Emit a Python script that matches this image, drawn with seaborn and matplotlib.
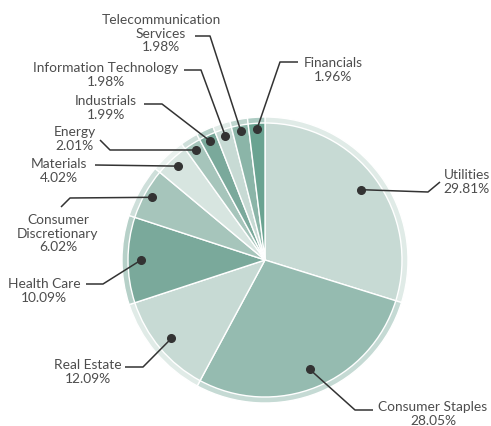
import numpy as np
import matplotlib
matplotlib.use("Agg")
import matplotlib.pyplot as plt
import seaborn as sns

sectors = ["Utilities", "Consumer Staples", "Real Estate", "Health Care",
           "Consumer Discretionary", "Materials", "Energy", "Industrials",
           "Information Technology", "Telecommunication Services", "Financials"]
weights = [29.81, 28.05, 12.09, 10.09, 6.02, 4.02, 2.01, 1.99, 1.98, 1.98, 1.96]
label_text = ["Utilities", "Consumer Staples", "Real Estate", "Health Care",
              "Consumer\nDiscretionary", "Materials", "Energy", "Industrials",
              "Information Technology", "Telecommunication\nServices", "Financials"]
colors = ["#c7dad4", "#95bbb0", "#c7dad4", "#7aa99b", "#a6c5bb", "#d7e5e0",
          "#a6c5bb", "#7aa99b", "#c7dad4", "#8bb5a8", "#6aa391"]

# layout in pixels: centre of pie, radius
CX, CY, R = 265, 261, 143
W, H = 491, 427

# per-slice label layout (pixel coords): text centre, elbow points, dot radius
text_pos = [(467, 182), (433, 414), (88, 372), (44, 291), (58, 234), (59, 171),
            (75, 139), (106, 108), (106, 75), (161, 34), (333, 70)]
elbows = [[(428, 193), (440, 183)], [(355, 411), (373, 411)],
          [(143, 368), (125, 368)], [(103, 285), (86, 285)],
          [(70, 199), (61, 208)], [(95, 166)],
          [(110, 151), (100, 141)], [(162, 105), (144, 105)],
          [(201, 71), (184, 71)], [(210, 37), (195, 37)],
          [(280, 63), (298, 63)]]
dot_r = [0.83, 0.825, 0.853, 0.867, 0.905, 0.897, 0.908, 0.92, 0.913, 0.92, 0.917]


def px(x, y):
    return (x - CX) / R, (CY - y) / R


def lighten(c, amt=0.5):
    rgb = np.array(matplotlib.colors.to_rgb(c))
    return tuple(rgb + (1 - rgb) * amt)


sns.set_theme(style="white")
plt.rcParams['font.family'] = ['Lato', 'DejaVu Sans']

fig = plt.figure(figsize=(W / 100, H / 100), dpi=100)
ax = fig.add_axes([0, 0, 1, 1])

# outer pale ring, then the solid slices on top
ax.pie(weights, colors=[lighten(c, 0.45) for c in colors], startangle=90,
       counterclock=False, radius=1.0,
       wedgeprops=dict(edgecolor='white', linewidth=1.0))
wedges, _ = ax.pie(weights, colors=colors, startangle=90,
                   counterclock=False, radius=137 / 143,
                   wedgeprops=dict(edgecolor='white', linewidth=1.0))
ax.set_xlim(-CX / R, (W - CX) / R)
ax.set_ylim(-(H - CY) / R, CY / R)
ax.set_aspect('equal')
ax.axis('off')

line_col = "#333333"
for i, w in enumerate(wedges):
    mid = np.deg2rad((w.theta1 + w.theta2) / 2)
    dx, dy = dot_r[i] * np.cos(mid), dot_r[i] * np.sin(mid)
    pts = [(dx, dy)] + [px(*p) for p in elbows[i]]
    xs, ys = zip(*pts)
    ax.plot(xs, ys, color=line_col, lw=1.1, solid_capstyle='butt', zorder=5)
    ax.plot(dx, dy, 'o', color=line_col, ms=5.5, zorder=6)
    tx, ty = px(*text_pos[i])
    ax.text(tx, ty, f"{label_text[i]}\n{weights[i]:.2f}%", ha='center',
            va='center', multialignment='center', fontsize=9.9,
            color="#4d4d4d", linespacing=1.15)

fig.savefig("out.png", dpi=100)
